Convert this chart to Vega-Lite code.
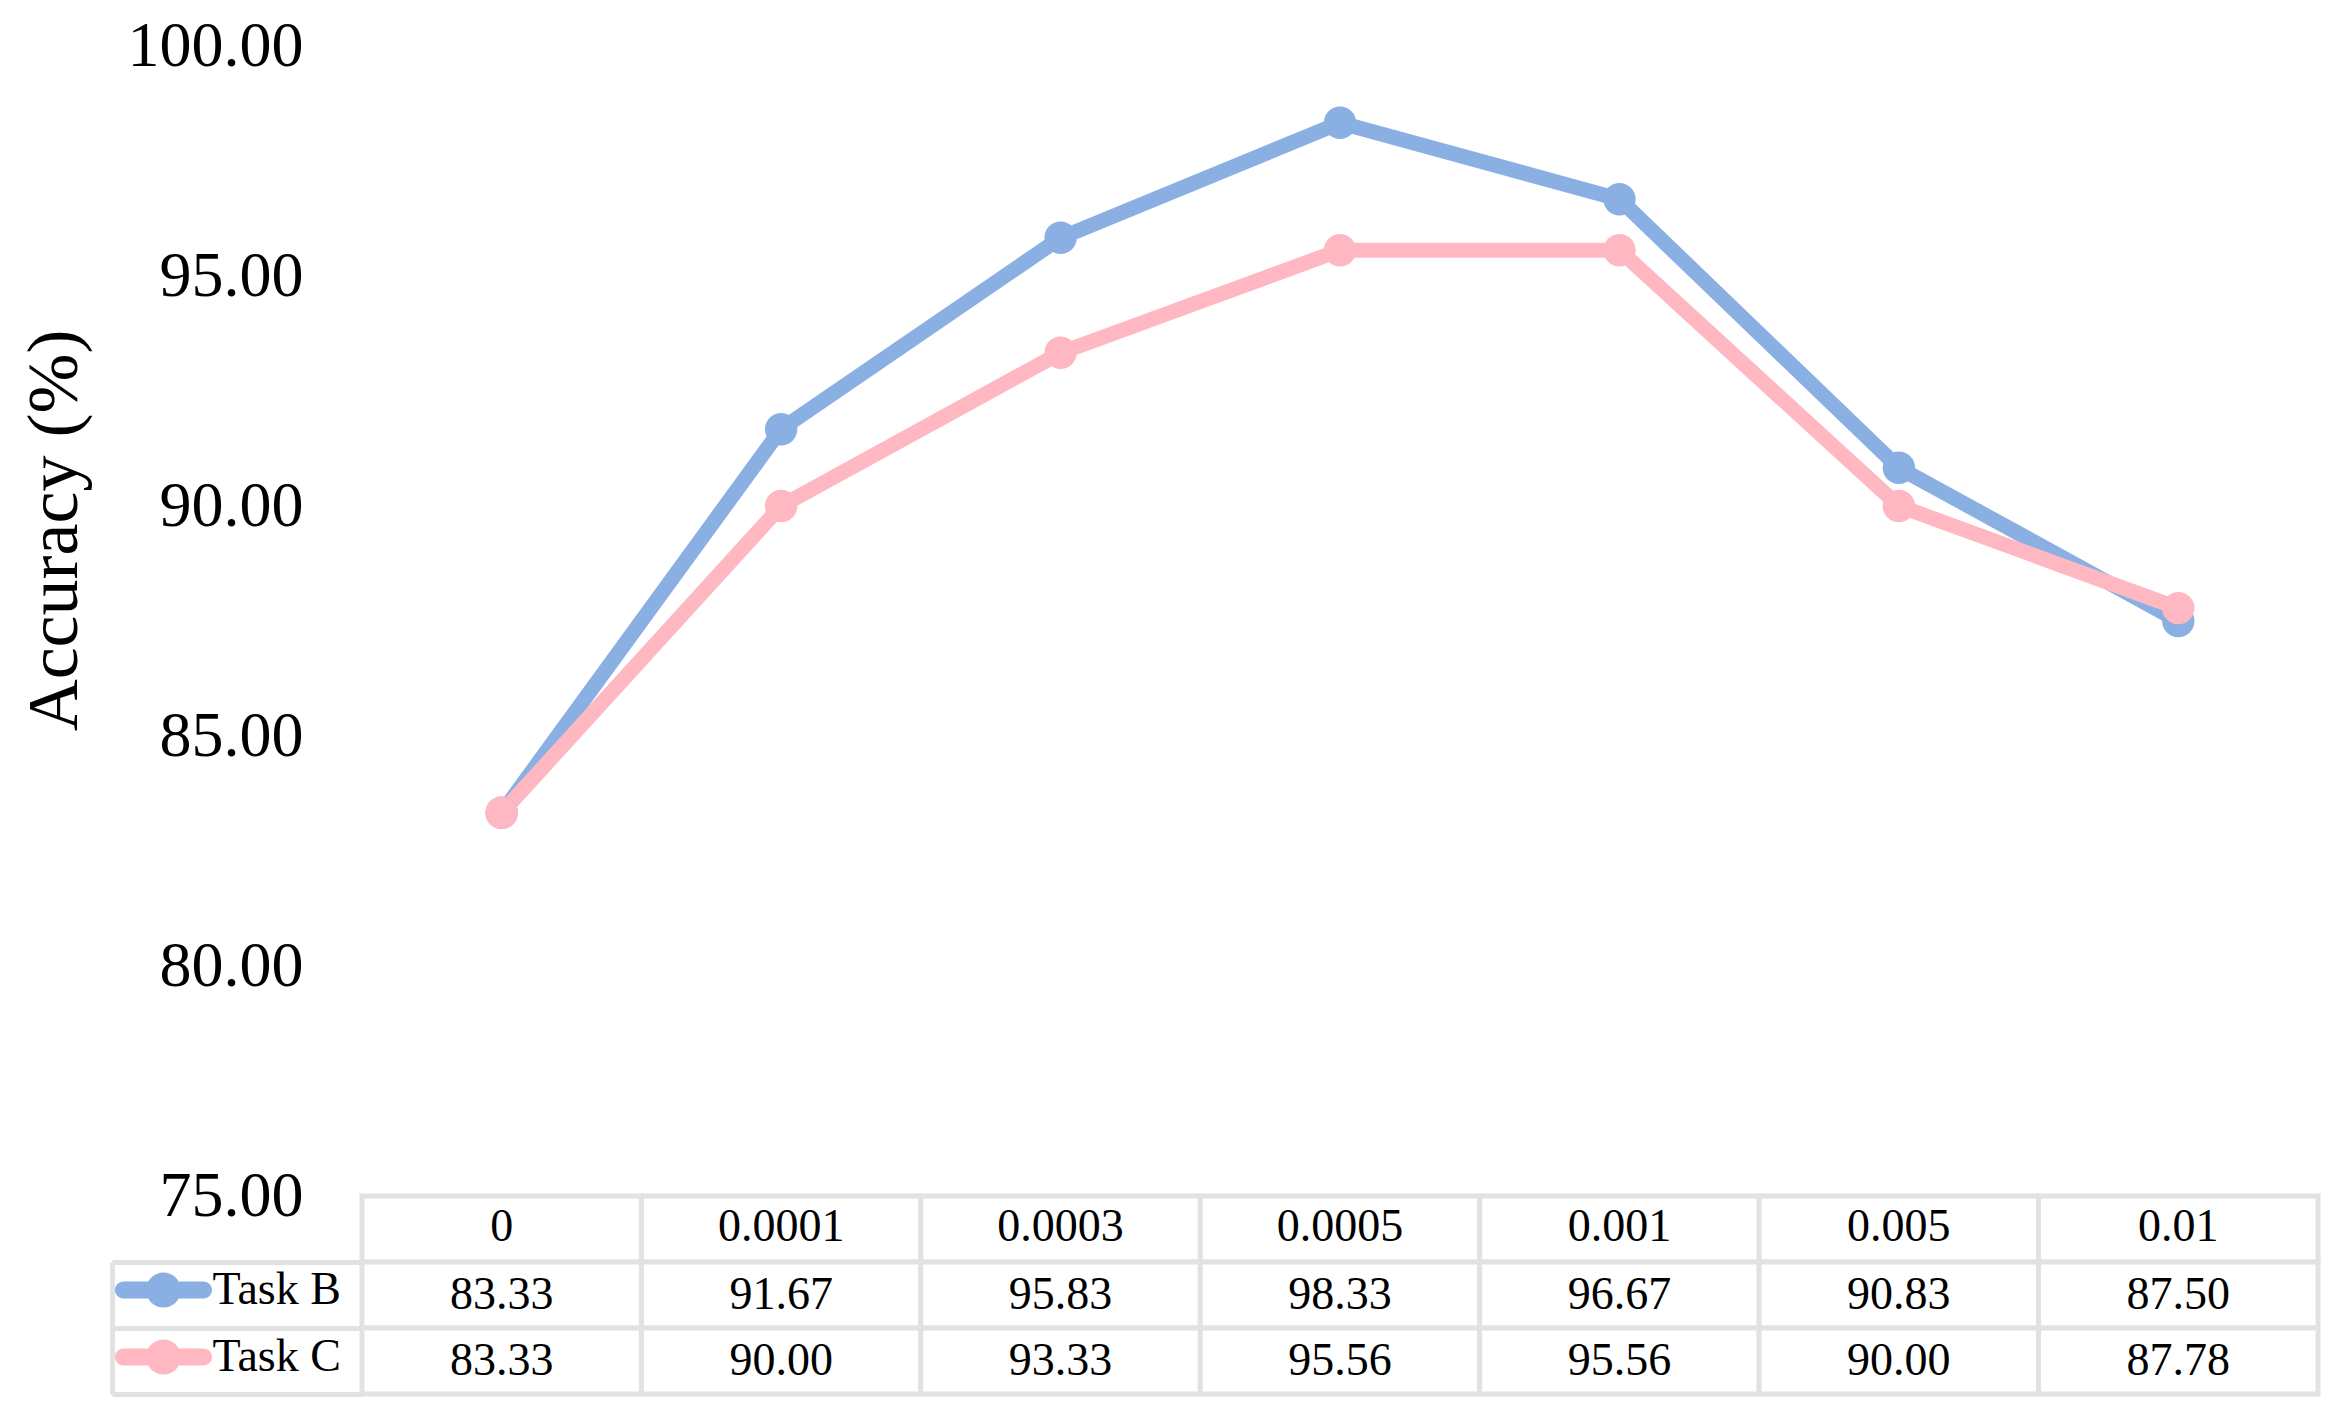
{
  "$schema": "https://vega.github.io/schema/vega-lite/v6.json",
  "width": 1956,
  "height": 1150,
  "autosize": {"type": "none"},
  "padding": {"left": 362, "top": 46, "right": 25, "bottom": 217},
  "background": "white",
  "config": {"view": {"stroke": null}, "font": "Liberation Serif"},
  "data": {
    "values": [
      {"lr": "0", "task": "Task B", "acc": 83.33},
      {"lr": "0.0001", "task": "Task B", "acc": 91.67},
      {"lr": "0.0003", "task": "Task B", "acc": 95.83},
      {"lr": "0.0005", "task": "Task B", "acc": 98.33},
      {"lr": "0.001", "task": "Task B", "acc": 96.67},
      {"lr": "0.005", "task": "Task B", "acc": 90.83},
      {"lr": "0.01", "task": "Task B", "acc": 87.50},
      {"lr": "0", "task": "Task C", "acc": 83.33},
      {"lr": "0.0001", "task": "Task C", "acc": 90.00},
      {"lr": "0.0003", "task": "Task C", "acc": 93.33},
      {"lr": "0.0005", "task": "Task C", "acc": 95.56},
      {"lr": "0.001", "task": "Task C", "acc": 95.56},
      {"lr": "0.005", "task": "Task C", "acc": 90.00},
      {"lr": "0.01", "task": "Task C", "acc": 87.78}
    ]
  },
  "layer": [
    {
      "mark": {"type": "line", "strokeWidth": 15, "strokeCap": "round", "strokeJoin": "round", "point": {"filled": true, "size": 1050, "opacity": 1}},
      "encoding": {
        "x": {"field": "lr", "type": "nominal", "sort": null, "axis": null, "scale": {"type": "band", "paddingInner": 0, "paddingOuter": 0}},
        "y": {
          "field": "acc", "type": "quantitative",
          "scale": {"domain": [75, 100], "nice": false, "zero": false},
          "axis": {
            "orient": "left", "values": [75, 80, 85, 90, 95, 100], "format": ".2f",
            "labelFont": "Liberation Serif", "labelFontSize": 64, "labelColor": "black",
            "labelPadding": 59, "labelFlush": false, "labelOverlap": false, "labelBaseline": "middle",
            "ticks": false, "domain": false, "grid": false,
            "title": "Accuracy (%)", "titleFont": "Liberation Serif", "titleFontSize": 72,
            "titleFontWeight": "normal", "titleColor": "black", "titleAngle": 270,
            "titleX": -286, "titleY": 484, "titleAlign": "center", "titleBaseline": "alphabetic"
          }
        },
        "color": {
          "field": "task", "type": "nominal",
          "scale": {"domain": ["Task B", "Task C"], "range": ["#8AB0E3", "#FFB8C2"]},
          "legend": {
            "orient": "none", "legendX": -230.5, "legendY": 1212, "direction": "vertical",
            "title": null, "padding": 0, "rowPadding": 12,
            "symbolType": "M-1.25,-0.266H1.25A0.266,0.266 0 0 1 1.25,0.266H-1.25A0.266,0.266 0 0 1 -1.25,-0.266ZM0.547,0A0.547,0.547 0 1 1 -0.547,0A0.547,0.547 0 1 1 0.547,0Z",
            "symbolSize": 4096, "symbolStrokeWidth": 0, "symbolOffset": 0,
            "labelFont": "Liberation Serif", "labelFontSize": 46, "labelColor": "black",
            "labelOffset": 17, "labelLimit": 0, "labelBaseline": "middle",
            "encode": {"symbols": {"update": {"fill": {"scale": "color", "field": "value"}, "stroke": {"value": "transparent"}, "opacity": {"value": 1}, "fillOpacity": {"value": 1}}}}
          }
        }
      }
    },
    {
      "encoding": {
        "x": {"field": "lr", "type": "nominal", "sort": null, "axis": null, "scale": {"type": "band", "paddingInner": 0, "paddingOuter": 0}}
      },
      "layer": [
        {
          "transform": [{"filter": "datum.task == 'Task B'"}],
          "mark": {"type": "rect", "fill": "white", "stroke": "#E2E2E2", "strokeWidth": 5},
          "encoding": {"y": {"datum": "lr", "type": "nominal"}}
        },
        {
          "mark": {"type": "rect", "fill": "white", "stroke": "#E2E2E2", "strokeWidth": 5},
          "encoding": {
            "y": {
              "field": "task", "type": "nominal",
              "scale": {"domain": ["lr", "Task B", "Task C"], "range": [1150, 1348], "paddingInner": 0, "paddingOuter": 0},
              "axis": {
                "orient": "left", "offset": 250, "labels": false, "title": null, "grid": false,
                "domain": true, "domainColor": "#E2E2E2", "domainWidth": 5, "domainDash": [0, 66, 300],
                "ticks": true, "tickSize": -250, "tickColor": "#E2E2E2", "tickWidth": 5,
                "bandPosition": 1, "tickExtra": true,
                "tickOpacity": {"condition": {"test": "datum.extra", "value": 0}, "value": 1}
              }
            }
          }
        },
        {
          "transform": [{"filter": "datum.task == 'Task B'"}],
          "mark": {"type": "text", "font": "Liberation Serif", "fontSize": 46, "color": "black", "baseline": "middle", "dy": -2},
          "encoding": {"y": {"datum": "lr", "type": "nominal"}, "text": {"field": "lr", "type": "nominal"}}
        },
        {
          "mark": {"type": "text", "font": "Liberation Serif", "fontSize": 46, "color": "black", "baseline": "middle"},
          "encoding": {"y": {"field": "task", "type": "nominal"}, "text": {"field": "acc", "type": "quantitative", "format": ".2f"}}
        }
      ]
    }
  ],
  "resolve": {"scale": {"y": "independent"}, "axis": {"y": "independent"}}
}
